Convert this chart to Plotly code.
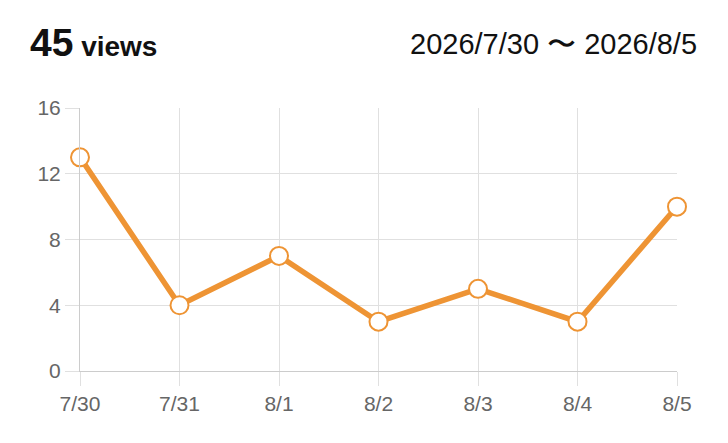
import plotly.graph_objects as go

categories = ["7/30", "7/31", "8/1", "8/2", "8/3", "8/4", "8/5"]
views = [13, 4, 7, 3, 5, 3, 10]
total_label = "45"
date_range = "2026/7/30 〜 2026/8/5"

ORANGE = "#EE9434"
GRID = "#e0e0e0"
AXIS = "#cccccc"
FONT = "Liberation Sans, Arial, sans-serif"

# page body has an 8px margin, so the figure is drawn at (8, 8)
OFF = 8
W, H = 728 - OFF, 443 - OFF
L, T = 80 - OFF, 108 - OFF
R = 728 - 677
B = 443 - 371
PW = W - L - R
PH = H - T - B

fig = go.Figure()
fig.add_trace(go.Scatter(
    x=categories, y=views, mode="lines+markers",
    line=dict(color=ORANGE, width=5.5),
    marker=dict(size=18, color="white", line=dict(color=ORANGE, width=2)),
    cliponaxis=False, hoverinfo="skip",
))

fig.update_layout(
    width=W, height=H,
    margin=dict(l=L, r=R, t=T, b=B),
    paper_bgcolor="white", plot_bgcolor="white",
    showlegend=False,
    font=dict(family=FONT, color="#666666", size=21),
    xaxis=dict(
        type="category", range=[0, 6],
        showgrid=True, gridcolor=GRID, gridwidth=1,
        ticks="outside", ticklen=14, tickcolor=GRID, tickwidth=1,
        showline=True, linecolor=AXIS, linewidth=1,
        zeroline=False, tickfont=dict(size=21, color="#666666"),
    ),
    yaxis=dict(
        range=[0, 16], dtick=4, tick0=0,
        showgrid=True, gridcolor=GRID, gridwidth=1,
        ticks="outside", ticklen=14, tickcolor=GRID, tickwidth=1,
        showline=True, linecolor=AXIS, linewidth=1,
        zeroline=False, tickfont=dict(size=21, color="#666666"),
    ),
    annotations=[
        dict(
            xref="paper", yref="paper", x=(28 - 80) / PW, y=1 + (108 - 42) / PH,
            xanchor="left", yanchor="middle", showarrow=False,
            text=f"<b><span style='font-size:39px'>{total_label}</span> views</b>",
            font=dict(size=28, color="#111111", family=FONT),
        ),
        dict(
            xref="paper", yref="paper", x=(699 - 80) / PW, y=1 + (108 - 44) / PH,
            xanchor="right", yanchor="middle", showarrow=False,
            text=date_range,
            font=dict(size=29, color="#111111", family=FONT),
        ),
    ],
)

fig.write_html("out.html")
